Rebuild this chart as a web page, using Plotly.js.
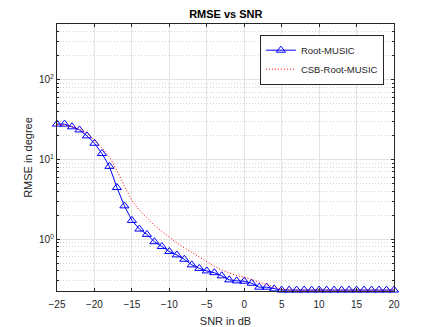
<!DOCTYPE html>
<html>
<head>
<meta charset="utf-8">
<script src="https://cdn.plot.ly/plotly-3.0.1.min.js"></script>
<style>
  html, body { margin: 0; padding: 0; background: #fff; }
  #chart { width: 436px; height: 327px; }
</style>
</head>
<body>
<div id="chart"></div>
<script>
// SNR axis (dB)
const snr = [];
for (let s = -25; s <= 20; s++) snr.push(s);

// RMSE in degree
const rootMusic = [27.8, 27.8, 25.7, 23.5, 19.8, 16.0, 11.9, 8.2, 4.45, 2.62,
                   1.72, 1.34, 1.15, 0.93, 0.81, 0.70, 0.635, 0.56, 0.476, 0.43,
                   0.40, 0.38, 0.347, 0.309, 0.30, 0.297, 0.28, 0.25, 0.25, 0.238,
                   0.23, 0.23, 0.23, 0.23, 0.23, 0.23, 0.23, 0.23, 0.23, 0.23,
                   0.23, 0.23, 0.23, 0.23, 0.23, 0.23];
const csbRootMusic = [27.5, 27.0, 25.8, 24.0, 21.5, 17.5, 14.0, 10.8, 7.3, 4.6,
                      3.05, 2.3, 1.85, 1.5, 1.25, 1.05, 0.9, 0.78, 0.68, 0.6,
                      0.52, 0.46, 0.41, 0.375, 0.35, 0.335, 0.31, 0.29, 0.27, 0.25,
                      0.235, 0.23, 0.23, 0.23, 0.23, 0.23, 0.23, 0.23, 0.23, 0.23,
                      0.23, 0.23, 0.23, 0.23, 0.23, 0.23];

const yTickVals = [1, 10, 100];
const yTickText = ['10<sup>0</sup>', '10<sup>1</sup>', '10<sup>2</sup>'];

const axisColor = '#262626';
const gridMajor = '#e3e3e3';
const gridMinor = '#d4d4d4';

const data = [
    {
        x: snr,
        y: rootMusic,
        type: 'scatter',
        mode: 'lines+markers',
        name: 'Root-MUSIC',
        line: { color: '#0000ff', width: 1 },
        marker: { symbol: 'triangle-up-open', size: 8, color: '#0000ff', line: { width: 1 } },
        cliponaxis: false
    },
    {
        x: snr,
        y: csbRootMusic,
        type: 'scatter',
        mode: 'lines',
        name: 'CSB-Root-MUSIC',
        line: { color: '#ff0000', width: 1, dash: '1px,2px' }
    }
];

const layout = {
    width: 436,
    height: 327,
    paper_bgcolor: '#ffffff',
    plot_bgcolor: '#ffffff',
    font: { family: '"Liberation Sans", Arial, sans-serif', size: 10, color: axisColor },
    margin: { l: 57, r: 42, t: 24, b: 36 },
    title: {
        text: '<b>RMSE vs SNR</b>',
        font: { size: 11, color: '#000' },
        x: 0.518, xanchor: 'center',
        y: 0.957, yanchor: 'middle'
    },
    showlegend: true,
    legend: {
        x: 0.97, xanchor: 'right',
        y: 0.96, yanchor: 'top',
        bgcolor: '#ffffff',
        bordercolor: axisColor,
        borderwidth: 1,
        font: { size: 9.5, color: axisColor },
        tracegroupgap: 0,
        itemwidth: 30
    },
    xaxis: {
        range: [-25, 20],
        dtick: 5,
        tick0: -25,
        ticks: 'inside',
        ticklen: 3,
        tickcolor: axisColor,
        ticklabelstandoff: 4,
        showline: true,
        linecolor: axisColor,
        linewidth: 1,
        mirror: 'ticks',
        showgrid: true,
        gridcolor: gridMajor,
        zeroline: false,
        title: { text: 'SNR in dB', font: { size: 11 }, standoff: 8 }
    },
    yaxis: {
        type: 'log',
        range: [-0.65, 2.70],
        tickmode: 'array',
        tickvals: yTickVals,
        ticktext: yTickText,
        ticks: 'inside',
        ticklen: 3,
        tickcolor: axisColor,
        showline: true,
        linecolor: axisColor,
        linewidth: 1,
        mirror: 'ticks',
        showgrid: true,
        gridcolor: gridMajor,
        zeroline: false,
        minor: {
            dtick: 'D1',
            ticks: 'inside',
            ticklen: 2,
            tickcolor: axisColor,
            showgrid: true,
            gridcolor: gridMinor,
            griddash: '1px,2px'
        },
        title: { text: 'RMSE in degree', font: { size: 11 }, standoff: 4 }
    }
};

Plotly.newPlot('chart', data, layout, { displayModeBar: false, staticPlot: true });
</script>
</body>
</html>
